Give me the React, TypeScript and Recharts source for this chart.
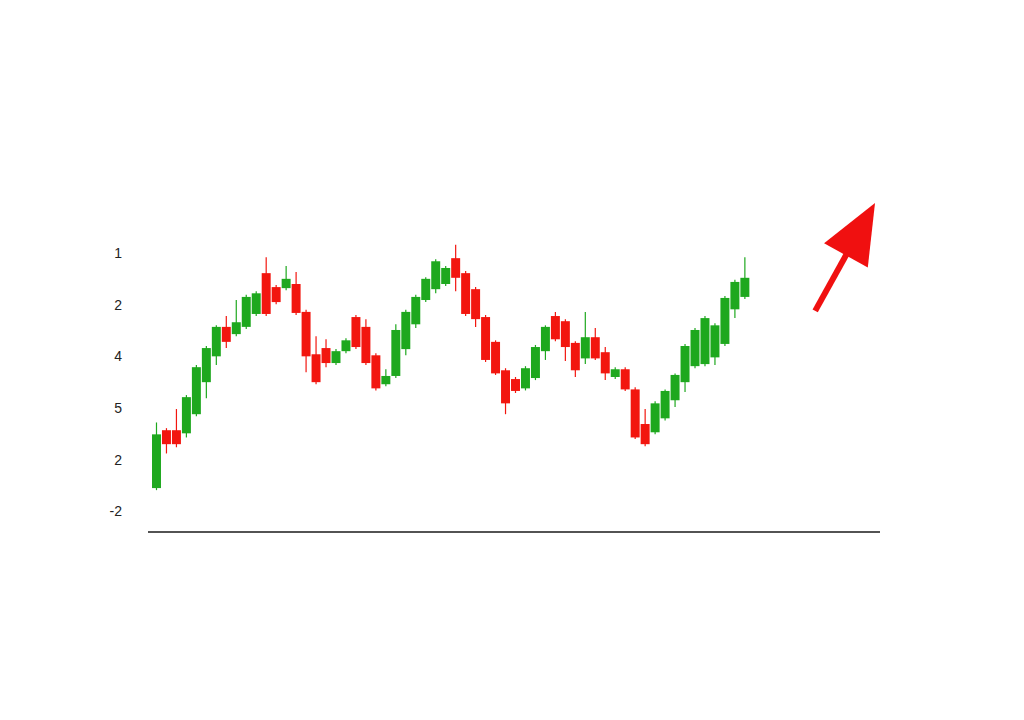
import React from 'react';
import { ComposedChart, Bar, XAxis, YAxis, ReferenceLine } from 'recharts';

// 73 slots on the time axis, candles fill the first 60, the rest is room for the arrow
const days = [
  1, 2, 3, 4, 5, 6, 7, 8, 9, 10, 11, 12, 13, 14, 15, 16, 17, 18, 19, 20,
  21, 22, 23, 24, 25, 26, 27, 28, 29, 30, 31, 32, 33, 34, 35, 36, 37, 38, 39, 40,
  41, 42, 43, 44, 45, 46, 47, 48, 49, 50, 51, 52, 53, 54, 55, 56, 57, 58, 59, 60,
  61, 62, 63, 64, 65, 66, 67, 68, 69, 70, 71, 72, 73,
];

const opens = [
  0.45, 1.57, 1.57, 1.51, 1.88, 2.5, 3.0, 3.57, 3.43, 3.57,
  3.82, 4.61, 4.34, 4.32, 4.4, 3.86, 3.04, 3.16, 2.87, 3.1,
  3.76, 3.57, 3.02, 2.46, 2.62, 3.14, 3.62, 4.09, 4.3, 4.4,
  4.9, 4.61, 4.3, 3.76, 3.28, 2.73, 2.56, 2.38, 2.58, 3.1,
  3.78, 3.68, 3.26, 2.96, 3.37, 3.08, 2.6, 2.75, 2.36, 1.69,
  1.53, 1.8, 2.15, 2.5, 2.81, 2.85, 2.98, 3.24, 3.91, 4.15,
];
const closes = [
  1.49, 1.3, 1.3, 2.21, 2.79, 3.16, 3.57, 3.28, 3.66, 4.15,
  4.22, 3.82, 4.05, 4.5, 3.84, 3.0, 2.5, 2.87, 3.1, 3.31,
  3.18, 2.87, 2.38, 2.62, 3.51, 3.86, 4.15, 4.5, 4.84, 4.71,
  4.52, 3.82, 3.72, 2.93, 2.67, 2.09, 2.33, 2.77, 3.18, 3.57,
  3.33, 3.18, 2.73, 3.37, 2.96, 2.67, 2.75, 2.36, 1.43, 1.3,
  2.09, 2.33, 2.64, 3.2, 3.51, 3.74, 3.6, 4.13, 4.44, 4.52,
];
const highs = [
  1.72, 1.61, 1.98, 2.25, 2.83, 3.2, 3.6, 3.78, 4.09, 4.19,
  4.26, 4.92, 4.38, 4.75, 4.63, 3.9, 3.39, 3.33, 3.14, 3.35,
  3.8, 3.72, 3.06, 2.75, 3.62, 3.9, 4.19, 4.53, 4.88, 4.75,
  5.16, 4.65, 4.34, 3.8, 3.31, 2.77, 2.6, 2.81, 3.22, 3.6,
  3.86, 3.72, 3.29, 3.86, 3.55, 3.18, 2.79, 2.79, 2.4, 1.98,
  2.13, 2.36, 2.67, 3.24, 3.55, 3.78, 3.64, 4.17, 4.48, 4.92,
];
const lows = [
  0.41, 1.12, 1.24, 1.43, 1.84, 2.19, 2.83, 3.16, 3.39, 3.53,
  3.78, 3.78, 4.01, 4.28, 3.8, 2.69, 2.46, 2.79, 2.83, 3.06,
  3.14, 2.83, 2.34, 2.42, 2.58, 3.02, 3.55, 4.05, 4.22, 4.36,
  4.26, 3.78, 3.57, 2.89, 2.64, 1.88, 2.29, 2.34, 2.54, 2.93,
  3.29, 2.91, 2.6, 2.85, 2.93, 2.54, 2.56, 2.33, 1.4, 1.26,
  1.49, 1.76, 2.02, 2.31, 2.77, 2.81, 2.83, 3.2, 3.74, 4.11,
];

const yTickValues = [0, 1, 2, 3, 4, 5];
const yTickLabels = ['-2', '2', '5', '4', '2', '1'];

// trend arrow, from and to (day, price)
const arrowFrom = { day: 67, value: 3.88 };
const arrowTo = { day: 73, value: 5.97 };

const UP = '#1ea81e';
const DOWN = '#f2160f';
const ARROW = '#f01010';

const data = days.map((day, i) => ({
  day,
  open: opens[i],
  close: closes[i],
  high: highs[i],
  low: lows[i],
}));

const Candle = (props: any) => {
  const { x, y, width, height, payload } = props;
  if (!payload || payload.open == null || !height) return null;
  const { open, close, high, low } = payload;
  const top0 = Math.min(y, y + height);
  const h = Math.abs(height);
  const perUnit = h / (high - low);
  const yOf = (v: number) => top0 + (high - v) * perUnit;
  const color = close >= open ? UP : DOWN;
  const top = yOf(Math.max(open, close));
  const bottom = yOf(Math.min(open, close));
  const cx = x + width / 2;
  return (
    <g>
      <line x1={cx} x2={cx} y1={top0} y2={top0 + h} stroke={color} strokeWidth={1.2} />
      <rect x={x} y={top} width={width} height={Math.max(bottom - top, 1)} fill={color} />
    </g>
  );
};

const Arrow = (props: any) => {
  const { x1, y1, x2, y2 } = props;
  if (x1 == null || x2 == null) return null;
  const dx = x2 - x1;
  const dy = y2 - y1;
  const len = Math.sqrt(dx * dx + dy * dy);
  const ux = dx / len;
  const uy = dy / len;
  const headLen = 60;
  const halfBase = 25;
  const bx = x2 - ux * headLen;
  const by = y2 - uy * headLen;
  const nx = -uy;
  const ny = ux;
  const pts = [
    `${x2},${y2}`,
    `${bx + nx * halfBase},${by + ny * halfBase}`,
    `${bx - nx * halfBase},${by - ny * halfBase}`,
  ].join(' ');
  return (
    <g>
      <line x1={x1} y1={y1} x2={bx + ux * 4} y2={by + uy * 4} stroke={ARROW} strokeWidth={6} />
      <polygon points={pts} fill={ARROW} />
    </g>
  );
};

export default function App() {
  return (
    <div style={{ width: 1008, height: 700, background: '#fff' }}>
      <ComposedChart
        width={1008}
        height={700}
        data={data}
        margin={{ top: 183, right: 136, bottom: 172, left: 0 }}
      >
        <XAxis
          dataKey="day"
          type="category"
          height={4}
          tick={false}
          tickLine={false}
          padding={{ left: 4, right: 0 }}
          axisLine={{ stroke: '#1a1a1a', strokeWidth: 1.5 }}
        />
        <YAxis
          type="number"
          domain={[-0.4, 6.2]}
          ticks={yTickValues}
          width={140}
          axisLine={false}
          tickLine={false}
          tickMargin={20}
          tickFormatter={(v: number) => yTickLabels[yTickValues.indexOf(v)] ?? ''}
          tick={{ fill: '#222', fontSize: 14, fontFamily: 'Liberation Sans, Arial, sans-serif' }}
        />
        <Bar
          dataKey={(d: any) => (d.open == null ? null : [d.low, d.high])}
          barSize={10}
          shape={(p: any) => <Candle {...p} />}
          isAnimationActive={false}
        />
        <ReferenceLine
          segment={[
            { x: arrowFrom.day, y: arrowFrom.value },
            { x: arrowTo.day, y: arrowTo.value },
          ]}
          ifOverflow="visible"
          shape={(p: any) => <Arrow {...p} />}
        />
      </ComposedChart>
    </div>
  );
}
